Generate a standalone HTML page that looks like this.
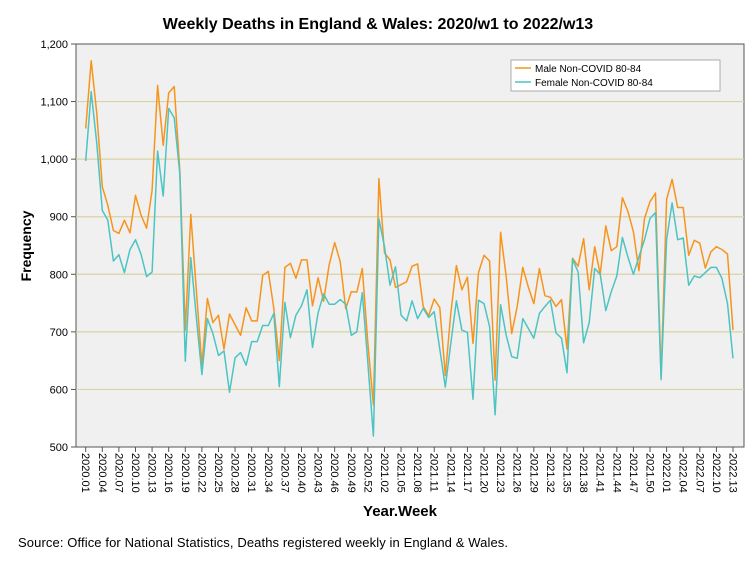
<!DOCTYPE html>
<html><head><meta charset="utf-8"><style>
body{margin:0;background:#fff;font-family:"Liberation Sans",sans-serif}
svg text{font-family:"Liberation Sans",sans-serif}
</style></head><body>
<svg id="c" width="754" height="564" xmlns="http://www.w3.org/2000/svg">
<rect x="0" y="0" width="754" height="564" fill="#fff"/>
<text x="378" y="29" text-anchor="middle" font-size="16" font-weight="bold">Weekly Deaths in England &amp; Wales: 2020/w1 to 2022/w13</text>
<rect x="76" y="44" width="668" height="403" fill="#f0f0f0" stroke="#555" stroke-width="1"/>
<g id="grid"></g><g id="yt"></g><g id="xt"></g><g id="lines"></g>
<text x="400" y="516" text-anchor="middle" font-size="15" font-weight="bold">Year.Week</text>
<text transform="translate(31,246) rotate(-90)" text-anchor="middle" font-size="14" font-weight="bold">Frequency</text>
<text x="18" y="547" font-size="13" textLength="490">Source: Office for National Statistics, Deaths registered weekly in England &amp; Wales.</text>
<g>
<rect x="511" y="60" width="209" height="31" fill="#fff" stroke="#999" stroke-width="0.8"/>
<line x1="515" y1="68" x2="531" y2="68" stroke="#f7941d" stroke-width="1.5"/>
<text x="535" y="72" font-size="10">Male Non-COVID 80-84</text>
<line x1="515" y1="82" x2="531" y2="82" stroke="#4cc4c4" stroke-width="1.5"/>
<text x="535" y="86" font-size="10">Female Non-COVID 80-84</text>
</g>
</svg>
<script>
const yearLengths=[53,52,13];
const startYears=[2020,2021,2022];
const male=[1053,1171,1079,952,920,876,871,894,872,937,903,880,946,1128,1024,1115,1126,981,703,904,773,642,758,716,729,670,731,712,694,742,719,719,798,805,741,650,812,819,793,825,825,745,794,753,816,855,822,740,770,769,810,680,573,966,837,825,777,782,787,814,818,744,728,757,742,624,732,815,773,795,680,803,833,823,616,873,796,697,744,812,778,749,810,763,760,744,756,670,828,814,862,773,848,800,884,841,848,933,909,874,806,897,926,941,622,930,965,916,916,833,859,854,811,839,848,843,835,703];
const female=[997,1117,1027,911,894,823,834,803,843,860,835,796,804,1014,936,1088,1072,975,649,829,726,626,723,697,659,667,595,655,664,642,683,683,711,711,732,605,751,690,729,745,773,673,733,766,748,748,756,748,694,700,768,645,519,896,848,781,813,729,719,754,723,741,725,735,670,604,680,754,703,699,583,755,749,709,556,747,694,657,654,723,706,689,732,744,755,698,689,629,826,804,681,716,810,800,737,770,797,864,830,800,830,860,897,907,617,860,924,860,863,781,797,794,803,812,812,793,749,654];
const yTicks=[500,600,700,800,900,1000,1100,1200];
const cats=[];
yearLengths.forEach((n,k)=>{for(let w=1;w<=n;w++)cats.push(startYears[k]+"."+String(w).padStart(2,"0"));});
const NS="http://www.w3.org/2000/svg";
const X0=85.7,X1=733,Y0=447,Y1=44,V0=500,V1=1200;
const xs=i=>X0+(X1-X0)*i/(cats.length-1);
const ys=v=>Y0-(v-V0)*(Y0-Y1)/(V1-V0);
function mk(t,a,p){const e=document.createElementNS(NS,t);for(const k in a)e.setAttribute(k,a[k]);p.appendChild(e);return e;}
const grid=document.getElementById('grid'),yt=document.getElementById('yt'),xt=document.getElementById('xt'),lg=document.getElementById('lines');
yTicks.forEach(v=>{
 const y=ys(v);
 if(v>V0&&v<V1){const g=mk('line',{x1:76,x2:744,y1:y,y2:y,stroke:'#d8d2a6','stroke-width':1.2},grid);
 
 }
 const tk=mk('line',{x1:71,x2:76,y1:y,y2:y,stroke:'#555'},yt);
 
 
 const t=mk('text',{x:68,y:y+4,'text-anchor':'end','font-size':11},yt);
 t.textContent=v.toLocaleString('en-US');
 
 
});
cats.forEach((c,i)=>{
 if(i%3!==0)return;
 const x=xs(i);
 const tk=mk('line',{x1:x,x2:x,y1:447,y2:452,stroke:'#555'},xt);
 
 
 const t=mk('text',{transform:`translate(${x-3.5},453) rotate(90)`,'text-anchor':'start','font-size':11},xt);
 t.textContent=c;
 
 
});
function line(arr,col,name){
 const p=mk('polyline',{points:arr.map((v,i)=>xs(i).toFixed(1)+","+ys(v).toFixed(1)).join(" "),fill:'none',stroke:col,'stroke-width':1.5,'stroke-linejoin':'round'},lg);
 
 
}
line(male,'#f7941d','male-series-line');
line(female,'#4cc4c4','female-series-line');
</script>
</body></html>
